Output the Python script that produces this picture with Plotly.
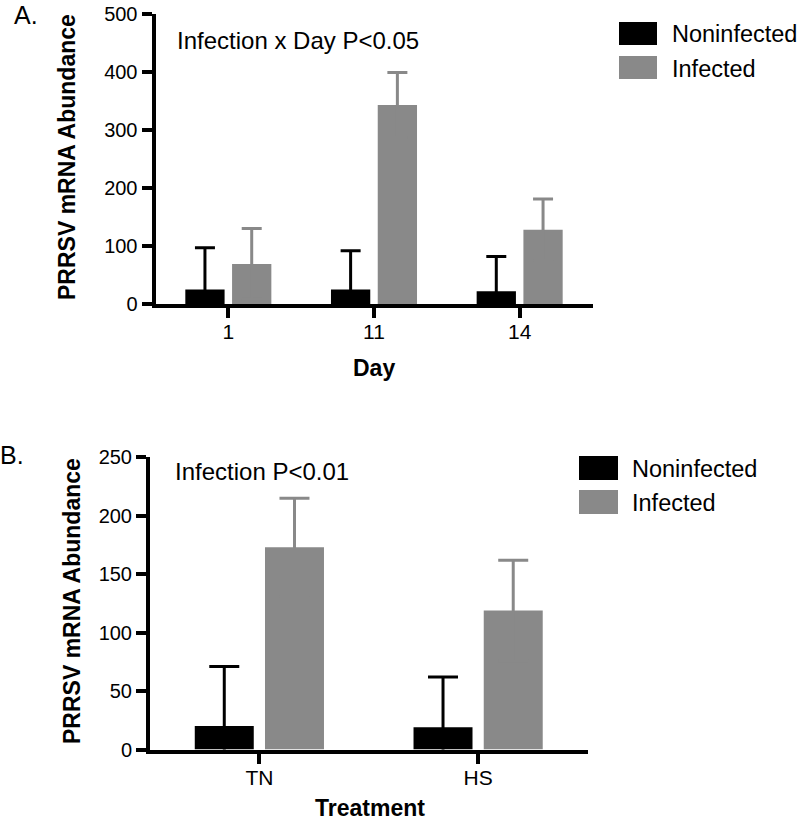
import plotly.graph_objects as go

# ---- data ----
days = ["1", "11", "14"]
a_noninf = [25, 25, 22]
a_noninf_err = [72, 67, 60]
a_inf = [69, 343, 128]
a_inf_err = [61, 56, 53]

treatments = ["TN", "HS"]
b_noninf = [20, 19]
b_noninf_err = [51, 43]
b_inf = [173, 119]
b_inf_err = [42, 43]

series_names = ["Noninfected", "Infected"]
colors = ["#000000", "#898989"]

a_yticks = [0, 100, 200, 300, 400, 500]
b_yticks = [0, 50, 100, 150, 200, 250]

W, H = 800, 822
FONT = "Liberation Sans, Arial, sans-serif"


def px(x):
    return x / W


def py(y):
    return 1 - y / H


fig = go.Figure()

for name, col, vals, errs in zip(series_names, colors, [a_noninf, a_inf], [a_noninf_err, a_inf_err]):
    fig.add_trace(go.Bar(
        x=days, y=vals, name=name, offsetgroup=name,
        marker=dict(color=col, line=dict(width=0)),
        error_y=dict(type="data", array=errs, symmetric=True,
                     color=col, thickness=3, width=10),
        xaxis="x", yaxis="y", showlegend=False, hoverinfo="skip"))

for name, col, vals, errs in zip(series_names, colors, [b_noninf, b_inf], [b_noninf_err, b_inf_err]):
    fig.add_trace(go.Bar(
        x=treatments, y=vals, name=name, offsetgroup=name,
        marker=dict(color=col, line=dict(width=0)),
        error_y=dict(type="data", array=errs, symmetric=True,
                     color=col, thickness=3, width=15),
        xaxis="x2", yaxis="y2", showlegend=False, hoverinfo="skip"))

axis_common = dict(showline=True, linewidth=4, linecolor="black", ticks="outside",
                   ticklen=10, tickwidth=4, tickcolor="black", showgrid=False,
                   zeroline=False, automargin=False,
                   tickfont=dict(family=FONT, size=20, color="black"))
x_extra = dict(tickfont=dict(family=FONT, size=21, color="black"), ticklabelstandoff=-4)
x_common = {**axis_common, **x_extra}

fig.update_layout(
    width=W, height=H,
    margin=dict(l=0, r=0, t=0, b=0, autoexpand=False),
    paper_bgcolor="white", plot_bgcolor="white",
    barmode="group", bargap=0.358, bargroupgap=0.16,
    font=dict(family=FONT, color="black"),
    xaxis=dict(domain=[px(155.5), px(592.5)], anchor="y", type="category",
               range=[-0.5, 2.5], **x_common),
    yaxis=dict(domain=[py(304), py(14)], anchor="x", range=[0, 500],
               tickvals=a_yticks, **axis_common),
    xaxis2=dict(domain=[px(150), px(587.5)], anchor="y2", type="category",
                range=[-0.5, 1.5], **x_common),
    yaxis2=dict(domain=[py(749.5), py(457.3)], anchor="x2", range=[0, 250],
                tickvals=b_yticks, **axis_common),
)

ann = []


def text(x, y, s, size=24, bold=False, xanchor="left", angle=0):
    ann.append(dict(x=px(x), y=py(y), xref="paper", yref="paper",
                    text=("<b>%s</b>" % s) if bold else s,
                    showarrow=False, xanchor=xanchor, yanchor="middle", textangle=angle,
                    font=dict(family=FONT, size=size, color="black")))


# panel labels
text(12, 15, "A.", size=25)
text(-2, 455, "B.", size=25)
# stats annotations
text(175, 41, "Infection x Day P<0.05")
text(173, 471, "Infection P<0.01")
# axis titles
text(67, 157, "PRRSV mRNA Abundance", size=23, bold=True, xanchor="center", angle=-90)
text(72, 601, "PRRSV mRNA Abundance", size=23, bold=True, xanchor="center", angle=-90)
text(374, 368, "Day", size=23, bold=True, xanchor="center")
text(370, 808, "Treatment", size=23, bold=True, xanchor="center")

# legends
shapes = []
legend_pos = [(619, 657, 670, [(22, 45), (56, 79)]), (579, 618, 630, [(456, 480), (490, 514)])]
for x0, x1, tx, rows in legend_pos:
    for (y0, y1), name, col in zip(rows, series_names, colors):
        shapes.append(dict(type="rect", xref="paper", yref="paper", x0=px(x0), x1=px(x1),
                           y0=py(y1), y1=py(y0), fillcolor=col, line=dict(width=0)))
        text(tx, (y0 + y1) / 2 + 1, name, size=23.5)

fig.update_layout(annotations=ann, shapes=shapes)
fig.write_html("out.html", config={"displayModeBar": False},
               post_script="document.body.style.margin='0';")
